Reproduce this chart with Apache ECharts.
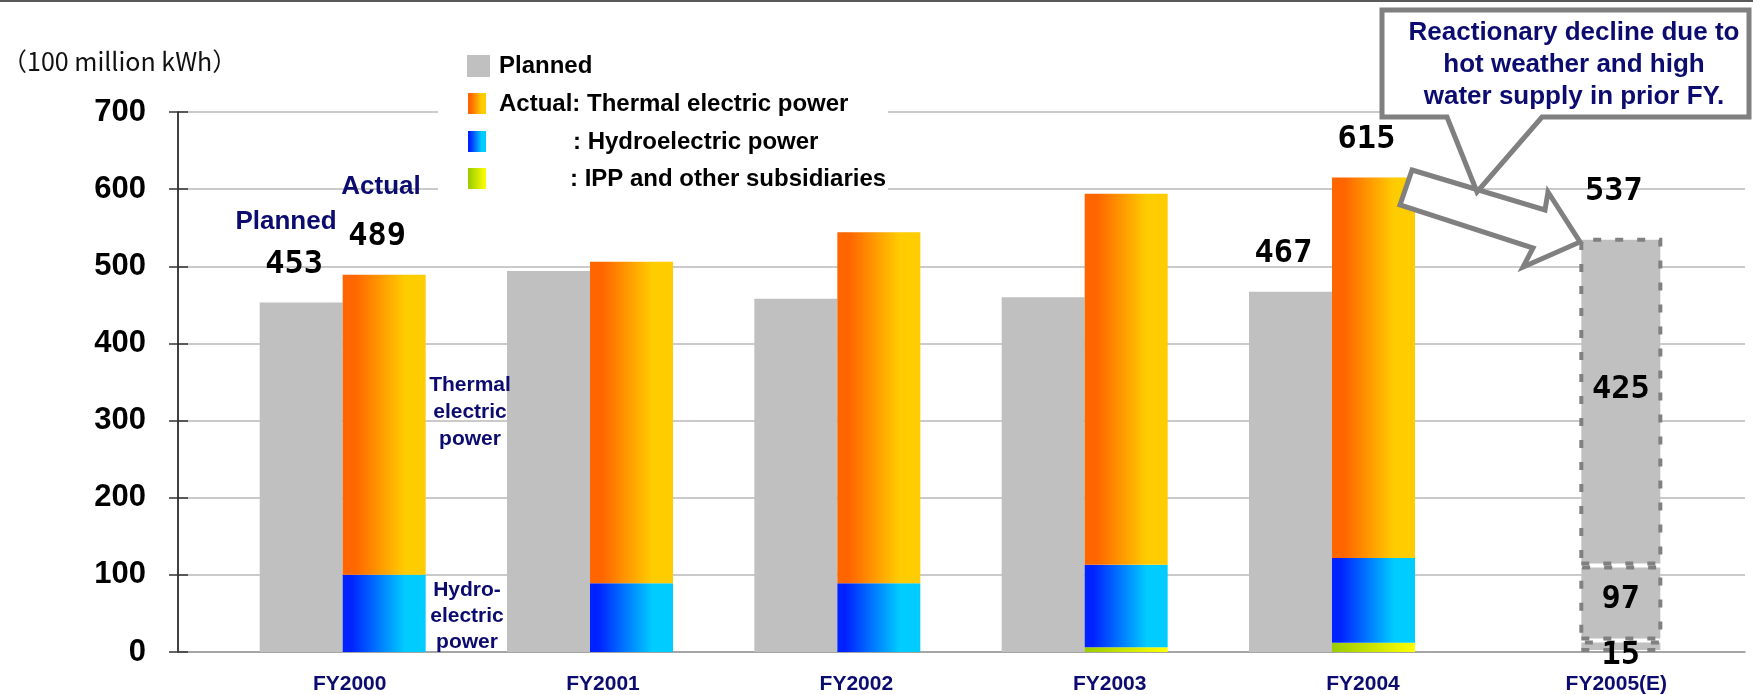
<!DOCTYPE html>
<html>
<head>
<meta charset="utf-8">
<script src="https://cdn.jsdelivr.net/npm/echarts@6/dist/echarts.min.js"></script>
<style>
  html, body { margin: 0; padding: 0; background: #ffffff; }
  #chart { width: 1753px; height: 695px; }
</style>
</head>
<body>
<div id="chart"></div>
<script>
// Electricity sales volume, unit: 100 million kWh
const categories = ['FY2000', 'FY2001', 'FY2002', 'FY2003', 'FY2004', 'FY2005(E)'];
const planned = [453, 494, 458, 460, 467, null];
const actualIpp = [0, 0, 0, 6, 12, 15];
const actualHydro = [100, 89, 89, 107, 110, 97];
const actualThermal = [389, 417, 455, 481, 493, 425];
const yMin = 0;
const yMax = 700;
const yStep = 100;
const plannedLabelled = [0, 4];
const totalLabelled = [0, 4, 5];
const estimateIndex = 5;

const NAVY = '#0b0b70';
const GRAY = '#C0C0C0';
const OUTLINE = '#808080';
const LG = echarts.graphic.LinearGradient;
const thermalFill = () => new LG(0, 0, 1, 0, [
  { offset: 0, color: '#FF6600' }, { offset: 0.15, color: '#FF6600' },
  { offset: 0.75, color: '#FFCC00' }, { offset: 1, color: '#FFCC00' }]);
const hydroFill = () => new LG(0, 0, 1, 0, [
  { offset: 0, color: '#0022FF' }, { offset: 0.1, color: '#0022FF' },
  { offset: 0.75, color: '#00CCFF' }, { offset: 1, color: '#00CCFF' }]);
const ippFill = () => new LG(0, 0, 1, 0, [
  { offset: 0, color: '#99CC00' }, { offset: 1, color: '#FFFF00' }]);

const valueFont = {
  fontFamily: 'DejaVu Sans Mono', fontWeight: 'bold', fontSize: 32, color: '#000'
};
const estimateStyle = {
  color: GRAY, borderColor: OUTLINE, borderWidth: 4, borderType: [8, 14]
};

// stacked "actual" pieces; the estimate year is drawn as a dashed grey box
function stackData(values, fill, labelOffsetY) {
  return values.map((v, i) => {
    if (i === estimateIndex) {
      return {
        value: v,
        itemStyle: estimateStyle,
        label: Object.assign({ show: true, position: 'inside', offset: [0, labelOffsetY] }, valueFont)
      };
    }
    return { value: v, itemStyle: { color: fill() } };
  });
}

const totals = categories.map((c, i) => (actualIpp[i] || 0) + (actualHydro[i] || 0) + (actualThermal[i] || 0));

const plannedData = planned.map((v, i) => ({
  value: v,
  label: Object.assign({ show: plannedLabelled.includes(i), position: 'top', distance: 22, offset: [-7, 0] }, valueFont)
}));
const totalData = categories.map((c, i) => totalLabelled.includes(i) ? {
  value: 0,
  label: Object.assign({ show: true, position: 'top', distance: i === estimateIndex ? 30 : 22, offset: [-7, 0],
    formatter: () => String(totals[i]) }, valueFont)
} : null);

const txt = (text, x, y, size, color, align, extra) => ({
  type: 'text', z: 20, x: x, y: y,
  style: Object.assign({
    text: text, fill: color, align: align || 'left', verticalAlign: 'middle',
    font: 'bold ' + size + 'px "Liberation Sans", Arial, sans-serif'
  }, extra || {})
});

const option = {
  animation: false,
  backgroundColor: '#ffffff',
  grid: [
    { left: 178, right: 8, top: 112, bottom: 43 },   // frame: value axis and gridlines
    { left: 219, right: 50, top: 112, bottom: 43 },  // bars
    { left: 223, right: 10, top: 112, bottom: 43 }   // category labels
  ],
  xAxis: [
    { type: 'category', gridIndex: 0, data: categories, axisLabel: { show: false },
      axisTick: { show: false }, axisLine: { lineStyle: { color: '#999', width: 1.5 } } },
    { type: 'category', gridIndex: 1, data: categories, show: false },
    { type: 'category', gridIndex: 2, data: categories, axisLine: { show: false }, axisTick: { show: false },
      axisLabel: { margin: 24, color: NAVY, fontFamily: 'Liberation Sans', fontWeight: 'bold', fontSize: 21 } }
  ],
  yAxis: [
    { type: 'value', gridIndex: 0, min: yMin, max: yMax, interval: yStep,
      axisLine: { show: true, lineStyle: { color: '#000', width: 1.5 } },
      axisTick: { show: true, length: 9, lineStyle: { color: '#333', width: 1.5 } },
      axisLabel: { margin: 32, color: '#000', fontFamily: 'Liberation Sans', fontWeight: 'bold', fontSize: 31 },
      splitLine: { lineStyle: { color: '#b8b8b8', width: 1.5 } } },
    { type: 'value', gridIndex: 0, position: 'left', min: yMin, max: yMax, interval: yStep,
      axisLine: { show: false }, axisLabel: { show: false }, splitLine: { show: false },
      axisTick: { show: true, inside: true, length: 10, lineStyle: { color: '#333', width: 1.5 } } },
    { type: 'value', gridIndex: 1, min: yMin, max: yMax, show: false, splitLine: { show: false } },
    { type: 'value', gridIndex: 2, min: yMin, max: yMax, show: false, splitLine: { show: false } }
  ],
  series: [
    { name: 'Planned', type: 'bar', xAxisIndex: 1, yAxisIndex: 2, barWidth: 83, barGap: '0%',
      itemStyle: { color: GRAY }, data: plannedData },
    { name: 'IPP and other subsidiaries', type: 'bar', stack: 'actual', xAxisIndex: 1, yAxisIndex: 2,
      barWidth: 83, data: stackData(actualIpp, ippFill, 9) },
    { name: 'Hydroelectric power', type: 'bar', stack: 'actual', xAxisIndex: 1, yAxisIndex: 2,
      barWidth: 83, data: stackData(actualHydro, hydroFill, -3) },
    { name: 'Thermal electric power', type: 'bar', stack: 'actual', xAxisIndex: 1, yAxisIndex: 2,
      barWidth: 83, data: stackData(actualThermal, thermalFill, -12) },
    { name: 'Total', type: 'bar', stack: 'actual', xAxisIndex: 1, yAxisIndex: 2,
      barWidth: 83, itemStyle: { color: 'rgba(0,0,0,0)' }, data: totalData }
  ],
  graphic: [
    // top rule
    { type: 'rect', z: 20, shape: { x: 0, y: 0, width: 1753, height: 2 }, style: { fill: '#5a5a5a' } },
    // unit
    { type: 'text', z: 20, x: 2, y: 61, style: { text: '（100 million kWh）', fill: '#111',
      verticalAlign: 'middle', font: '25px "Noto Sans CJK JP", "Noto Sans", sans-serif' } },
    // legend block
    { type: 'rect', z: 15, shape: { x: 438, y: 40, width: 450, height: 160 }, style: { fill: '#ffffff' } },
    { type: 'rect', z: 20, shape: { x: 467, y: 55, width: 23, height: 22 }, style: { fill: GRAY } },
    { type: 'rect', z: 20, shape: { x: 468, y: 93, width: 18, height: 21 }, style: { fill: thermalFill() } },
    { type: 'rect', z: 20, shape: { x: 468, y: 131, width: 18, height: 21 }, style: { fill: hydroFill() } },
    { type: 'rect', z: 20, shape: { x: 468, y: 168, width: 18, height: 21 }, style: { fill: ippFill() } },
    txt('Planned', 499, 66, 24, '#000'),
    txt('Actual: Thermal electric power', 499, 104, 24, '#000'),
    txt(': Hydroelectric power', 573, 142, 24, '#000'),
    txt(': IPP and other subsidiaries', 570, 179, 24, '#000'),
    // bar annotations
    txt('Planned', 286, 222, 26, NAVY, 'center'),
    txt('Actual', 381, 187, 26, NAVY, 'center'),
    txt('Thermal\nelectric\npower', 470, 412, 21, NAVY, 'center', { lineHeight: 27 }),
    txt('Hydro-\nelectric\npower', 467, 616, 21, NAVY, 'center', { lineHeight: 26 }),
    // arrow towards the estimate
    { type: 'polygon', z: 18,
      shape: { points: [[1412, 170], [1545, 210], [1548, 192], [1580, 242], [1523, 267], [1533, 248], [1400, 205]] },
      style: { fill: '#ffffff', stroke: OUTLINE, lineWidth: 5, lineJoin: 'miter' } },
    // callout
    { type: 'polygon', z: 19,
      shape: { points: [[1382, 10], [1749, 10], [1749, 117], [1542, 117], [1477, 192], [1447, 117], [1382, 117]] },
      style: { fill: '#ffffff', stroke: OUTLINE, lineWidth: 5, lineJoin: 'miter' } },
    txt('Reactionary decline due to\nhot weather and high\nwater supply in prior FY.', 1574, 65, 26, NAVY, 'center', { lineHeight: 32 })
  ]
};

const chart = echarts.init(document.getElementById('chart'), null, { renderer: 'canvas' });
chart.setOption(option);
</script>
</body>
</html>
